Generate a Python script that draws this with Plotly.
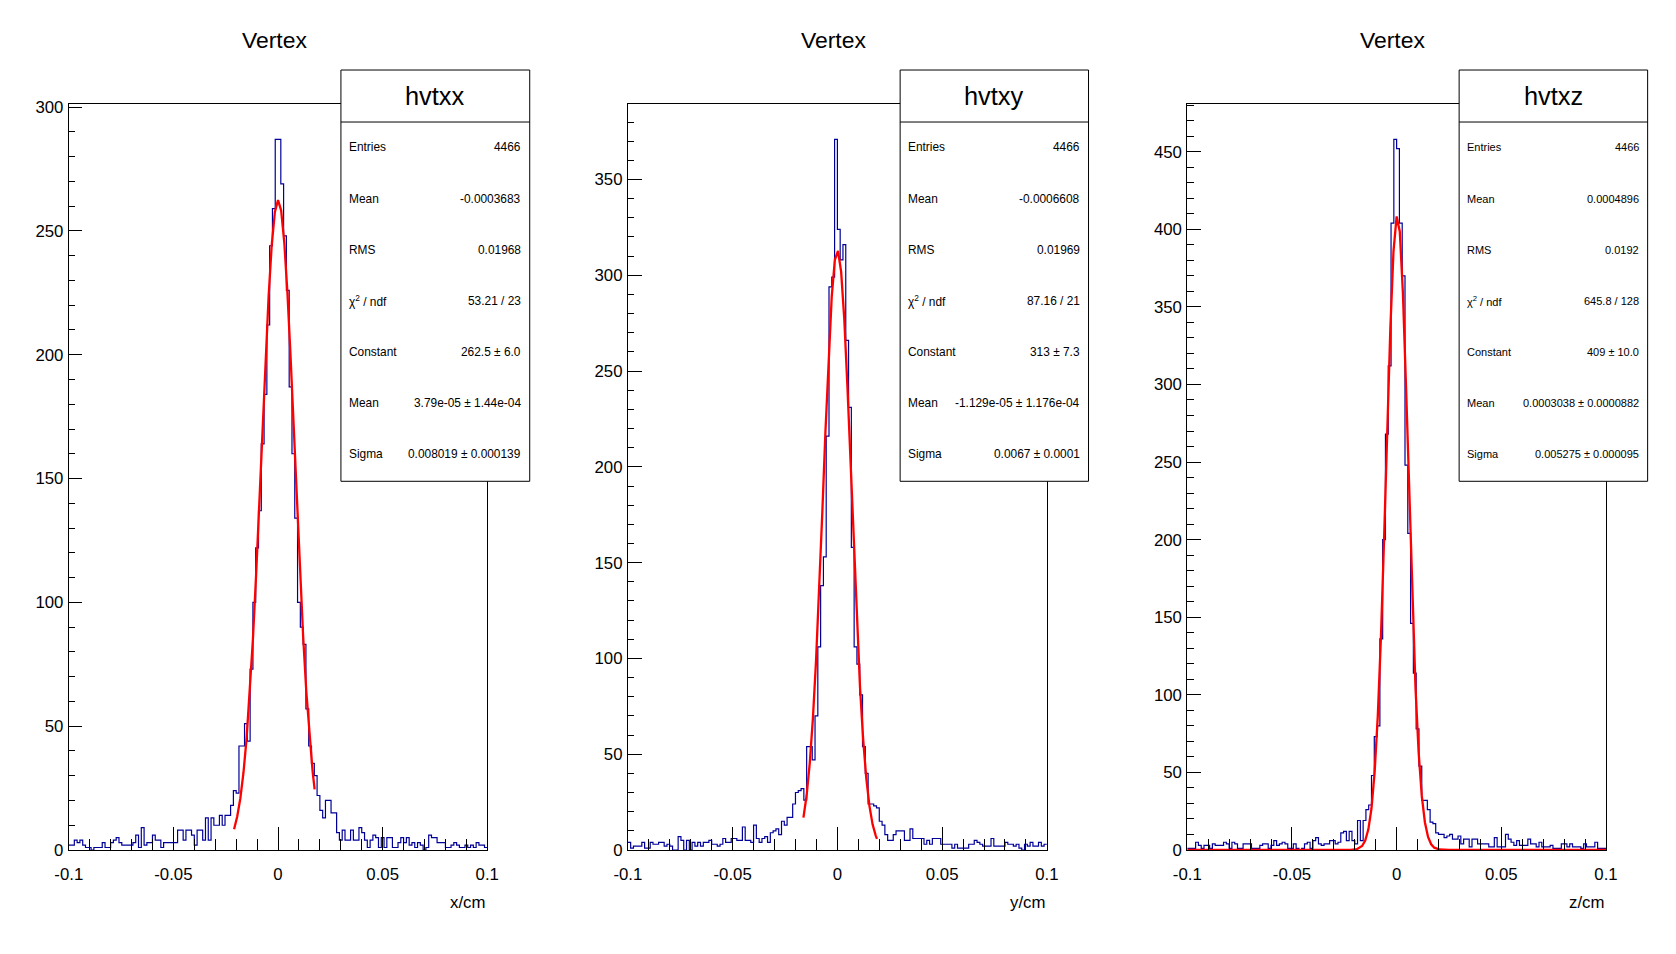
import numpy as np
import plotly.graph_objects as go

# page is 1676 x 954; the figure sits a little in from the page corner
PAGE_W, PAGE_H, PAD = 1676, 954, 8
W, H = PAGE_W - 2 * PAD, PAGE_H - 2 * PAD

# histogram binning (150 bins from -0.1 to 0.1)
n_bins = 150
x_lo, x_hi = -0.1, 0.1

x_tick_vals = [-0.1, -0.05, 0, 0.05, 0.1]
x_tick_text = ["-0.1", "-0.05", "0", "0.05", "0.1"]

hvtxx_counts = [
    2, 2, 4, 3, 4, 2, 1, 1, 0, 1,
    1, 1, 3, 1, 1, 3, 4, 5, 3, 2,
    2, 2, 2, 3, 6, 1, 9, 2, 3, 3,
    6, 4, 4, 1, 3, 3, 3, 3, 3, 8,
    8, 4, 8, 8, 6, 2, 8, 8, 4, 13,
    4, 13, 10, 10, 14, 10, 14, 14, 18, 24,
    23, 42, 42, 51, 44, 73, 100, 122, 137, 164,
    184, 212, 244, 259, 287, 287, 269, 248, 226, 187,
    160, 134, 100, 90, 83, 57, 42, 35, 30, 22,
    16, 13, 20, 20, 15, 15, 7, 4, 8, 4,
    4, 8, 4, 4, 9, 7, 4, 1, 4, 6,
    5, 1, 5, 1, 5, 5, 1, 1, 3, 5,
    3, 5, 2, 3, 1, 3, 2, 0, 1, 6,
    5, 5, 3, 3, 3, 1, 1, 2, 3, 2,
    1, 1, 2, 1, 2, 1, 3, 2, 2, 1,
]

hvtxy_counts = [
    4, 1, 2, 2, 2, 4, 1, 1, 4, 3,
    3, 4, 4, 2, 3, 2, 0, 0, 7, 5,
    0, 5, 0, 4, 2, 4, 2, 4, 4, 5,
    3, 3, 2, 3, 6, 4, 4, 6, 6, 5,
    5, 12, 5, 5, 4, 13, 6, 4, 6, 7,
    4, 9, 10, 11, 8, 15, 13, 17, 17, 24,
    30, 31, 32, 26, 54, 54, 47, 70, 106, 138,
    153, 216, 294, 299, 371, 324, 308, 316, 266, 231,
    158, 106, 97, 81, 54, 40, 24, 24, 23, 22,
    15, 13, 8, 5, 5, 8, 10, 10, 10, 5,
    5, 11, 6, 6, 6, 6, 3, 5, 3, 6,
    6, 6, 3, 3, 3, 3, 1, 3, 1, 1,
    1, 1, 3, 3, 5, 4, 3, 2, 2, 2,
    6, 2, 2, 2, 2, 4, 3, 3, 2, 3,
    1, 0, 3, 2, 4, 2, 2, 4, 2, 3,
]

hvtxz_counts = [
    1, 1, 1, 5, 3, 1, 3, 3, 1, 4,
    3, 3, 3, 5, 4, 1, 5, 4, 1, 1,
    4, 4, 4, 1, 1, 1, 3, 4, 4, 1,
    3, 6, 3, 4, 5, 4, 1, 1, 4, 1,
    0, 1, 4, 5, 1, 6, 8, 4, 3, 4,
    4, 6, 6, 4, 5, 11, 12, 6, 12, 6,
    4, 19, 6, 19, 26, 29, 48, 73, 80, 136,
    200, 268, 312, 404, 458, 452, 404, 370, 248, 204,
    146, 114, 78, 54, 32, 32, 26, 18, 17, 11,
    10, 10, 8, 9, 10, 7, 7, 9, 4, 7,
    7, 2, 7, 7, 4, 4, 4, 4, 2, 2,
    8, 2, 2, 2, 10, 7, 5, 3, 6, 3,
    3, 3, 7, 4, 4, 2, 5, 2, 2, 2,
    3, 1, 1, 1, 4, 4, 2, 4, 2, 2,
    2, 1, 4, 2, 2, 2, 5, 1, 1, 1,
]

# red fit curves
fit_x_pos = [
    -0.021, -0.0195, -0.018, -0.0165, -0.015, -0.0135, -0.012, -0.0105, -0.009,
    -0.0075, -0.006, -0.0045, -0.003, -0.0015, 0.0, 0.0015, 0.003, 0.0045, 0.006,
    0.0075, 0.009, 0.0105, 0.012, 0.0135, 0.015, 0.0165, 0.0175,
]
fit_x_val = [
    8.4, 13.5, 20.9, 31.3, 45.3, 63.2, 85.1, 110.7, 139.1,
    168.7, 197.7, 223.6, 244.4, 257.7, 262.5, 258.2, 245.2, 224.9, 199.1,
    170.2, 140.6, 112.1, 86.3, 64.1, 46.0, 31.9, 24.5,
]

fit_y_pos = [
    -0.0162, -0.0147, -0.0132, -0.0117, -0.0102, -0.0087, -0.0072, -0.0057, -0.0042,
    -0.0027, -0.0012, 0.0003, 0.0018, 0.0033, 0.0048, 0.0063, 0.0078, 0.0093,
    0.0108, 0.0123, 0.0138, 0.0153, 0.0168, 0.0183, 0.0189,
]
fit_y_val = [
    16.9, 28.3, 45.1, 68.3, 98.5, 135.0, 176.0, 218.3, 257.5,
    288.8, 308.1, 312.7, 301.8, 277.0, 241.9, 200.8, 158.6, 119.1,
    85.1, 57.9, 37.4, 23.0, 13.4, 7.5, 5.8,
]

fit_z_pos = [
    -0.1, -0.03, -0.022, -0.019, -0.0165, -0.015, -0.0135, -0.012, -0.0105, -0.009,
    -0.0075, -0.006, -0.0045, -0.003, -0.0015, 0.0, 0.0015, 0.003, 0.0045, 0.006,
    0.0075, 0.009, 0.0105, 0.012, 0.0135, 0.015, 0.0165, 0.018, 0.0205, 0.025, 0.1,
]
fit_z_val = [
    0.0, 0.0, 0.05, 0.5, 2.6, 6.1, 13.3, 26.9, 50.2, 86.3,
    137.0, 200.3, 270.1, 336.2, 385.8, 408.3, 398.6, 358.9, 298.2, 228.3,
    161.3, 105.0, 63.2, 35.0, 17.9, 8.4, 3.7, 1.5, 0.3, 0.0, 0.0,
]

stat_labels = ["Entries", "Mean", "RMS", "\u03c7<sup>2</sup> / ndf", "Constant", "Mean", "Sigma"]
hvtxx_stats = ["4466", "-0.0003683", "0.01968", "53.21 / 23", "262.5 \u00b1 6.0",
               "3.79e-05 \u00b1 1.44e-04", "0.008019 \u00b1 0.000139"]
hvtxy_stats = ["4466", "-0.0006608", "0.01969", "87.16 / 21", "313 \u00b1 7.3",
               "-1.129e-05 \u00b1 1.176e-04", "0.0067 \u00b1 0.0001"]
hvtxz_stats = ["4466", "0.0004896", "0.0192", "645.8 / 128", "409 \u00b1 10.0",
               "0.0003038 \u00b1 0.0000882", "0.005275 \u00b1 0.000095"]

FONT = "Liberation Sans, Arial, Helvetica, sans-serif"

# panel geometry in page pixels
panels = [
    dict(name="hvtxx", xlab="x/cm", counts=hvtxx_counts, fx=fit_x_pos, fy=fit_x_val,
         stats=hvtxx_stats, left=55.5, right=480.7, ymax=301.35, box=(332.0, 523.8), sfont=11.9),
    dict(name="hvtxy", xlab="y/cm", counts=hvtxy_counts, fx=fit_y_pos, fy=fit_y_val,
         stats=hvtxy_stats, left=623.5, right=1049.2, ymax=389.55, box=(900.1, 1091.5), sfont=11.9),
    dict(name="hvtxz", xlab="z/cm", counts=hvtxz_counts, fx=fit_z_pos, fy=fit_z_val,
         stats=hvtxz_stats, left=1191.8, right=1617.2, ymax=480.9, box=(1468.0, 1659.5), sfont=11.0),
]
frame_top, frame_bottom = 99.3, 858.5
box_top, box_sep, box_bottom = 65.0, 117.9, 483.4
title_y, box_title_y, axis_label_y = 34.7, 91.7, 912.3
title_dx = -4.0
row_y0, row_dy = 143.8, 52.0
label_dx, value_dx = 6.2, 7.0


def px(x):
    return (x - PAD) / W


def py(y):
    return 1 - (y - PAD) / H


fig = go.Figure()
edges = np.linspace(x_lo, x_hi, n_bins + 1)
shapes, annotations = [], []

for i, p in enumerate(panels):
    n = "" if i == 0 else str(i + 1)
    xa, ya = "x" + n, "y" + n
    fig.add_trace(go.Scatter(
        x=edges, y=list(p["counts"]) + [p["counts"][-1]], mode="lines",
        line=dict(color="#000099", width=1.2, shape="hv"),
        xaxis=xa, yaxis=ya, hoverinfo="skip",
    ))
    fig.add_trace(go.Scatter(
        x=p["fx"], y=p["fy"], mode="lines",
        line=dict(color="#ff0000", width=2.3),
        xaxis=xa, yaxis=ya, hoverinfo="skip",
    ))

    fig.layout["xaxis" + n] = dict(
        domain=[px(p["left"]), px(p["right"])], range=[x_lo, x_hi], anchor=ya,
        showline=True, mirror=True, linecolor="black", linewidth=1,
        showgrid=False, zeroline=False,
        tickvals=x_tick_vals, ticktext=x_tick_text,
        ticks="inside", ticklen=23.4, tickcolor="black", tickwidth=1,
        ticklabelstandoff=9,
        minor=dict(ticks="inside", ticklen=11.2, dtick=0.01, tick0=0, tickcolor="black", showgrid=False),
        tickfont=dict(family=FONT, size=16.8, color="black"),
    )
    fig.layout["yaxis" + n] = dict(
        domain=[py(frame_bottom), py(frame_top)], range=[0, p["ymax"]], anchor=xa,
        showline=True, mirror=True, linecolor="black", linewidth=1,
        showgrid=False, zeroline=False,
        dtick=50, tick0=0,
        ticks="inside", ticklen=13.7, tickcolor="black", tickwidth=1,
        ticklabelstandoff=1,
        minor=dict(ticks="inside", ticklen=6.5, dtick=10, tick0=0, tickcolor="black", showgrid=False),
        tickfont=dict(family=FONT, size=16.8, color="black"),
    )

    # title and axis label
    annotations.append(dict(
        text="Vertex", x=px((p["left"] + p["right"]) / 2 + title_dx), y=py(title_y),
        xref="paper", yref="paper", xanchor="center", yanchor="middle", showarrow=False,
        font=dict(family=FONT, size=22.9, color="black"),
    ))
    annotations.append(dict(
        text=p["xlab"], x=px(p["right"]), y=py(axis_label_y), xref="paper", yref="paper",
        xanchor="right", yanchor="middle", showarrow=False,
        font=dict(family=FONT, size=16.8, color="black"),
    ))

    # stats box
    bl, br = p["box"]
    shapes.append(dict(
        type="rect", xref="paper", yref="paper", x0=px(bl), x1=px(br),
        y0=py(box_bottom), y1=py(box_top), fillcolor="white",
        line=dict(color="black", width=1), layer="above",
    ))
    shapes.append(dict(
        type="line", xref="paper", yref="paper", x0=px(bl), x1=px(br),
        y0=py(box_sep), y1=py(box_sep), line=dict(color="black", width=1), layer="above",
    ))
    annotations.append(dict(
        text=p["name"], x=px((bl + br) / 2), y=py(box_title_y), xref="paper", yref="paper",
        xanchor="center", yanchor="middle", showarrow=False,
        font=dict(family=FONT, size=25.4, color="black"),
    ))
    for r, (lab, val) in enumerate(zip(stat_labels, p["stats"])):
        yy = py(row_y0 + r * row_dy)
        annotations.append(dict(
            text=lab, x=px(bl + label_dx), y=yy, xref="paper", yref="paper",
            xanchor="left", yanchor="middle", showarrow=False,
            font=dict(family=FONT, size=p["sfont"], color="black"),
        ))
        annotations.append(dict(
            text=val, x=px(br - value_dx), y=yy, xref="paper", yref="paper",
            xanchor="right", yanchor="middle", showarrow=False,
            font=dict(family=FONT, size=p["sfont"], color="black"),
        ))

fig.update_layout(
    width=W, height=H,
    margin=dict(l=0, r=0, t=0, b=0),
    paper_bgcolor="white", plot_bgcolor="white",
    showlegend=False,
    shapes=shapes, annotations=annotations,
)

fig.write_html("out.html")
